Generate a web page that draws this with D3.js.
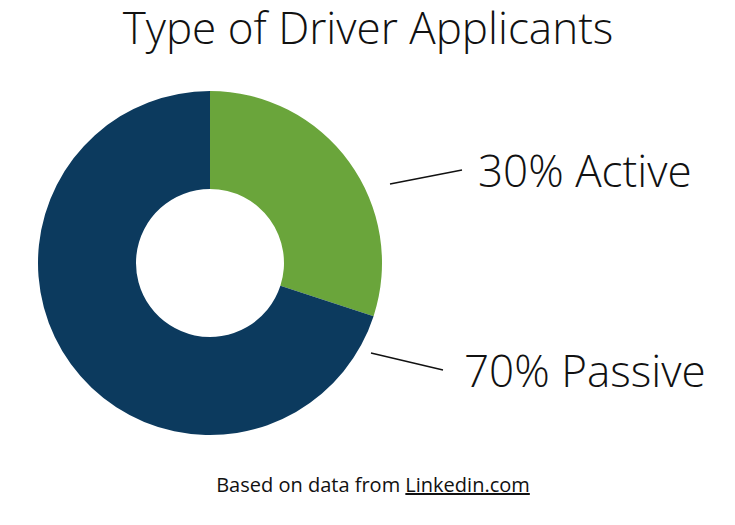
<!DOCTYPE html>
<html>
<head>
<meta charset="utf-8">
<script src="https://cdn.jsdelivr.net/npm/d3@7"></script>
<style>
  html, body { margin: 0; padding: 0; background: #fff; }
  svg { display: block; }
</style>
</head>
<body>
<svg id="chart" width="735" height="525"></svg>
<script>
const categories = ["Active", "Passive"];
const values = [30, 70];
const labels = ["30% Active", "70% Passive"];
const colors = ["#6aa53b", "#0c3a5e"];

const svg = d3.select("#chart");
const cx = 210, cy = 263, rOuter = 172, rInner = 74;

svg.append("text")
  .attr("x", 368).attr("y", 44)
  .attr("text-anchor", "middle")
  .style("font-family", "'Open Sans'")
  .style("font-weight", 300)
  .style("font-size", "44px")
  .attr("fill", "#111")
  .text("Type of Driver Applicants");

const pie = d3.pie().sort(null).value(d => d)(values);
const arc = d3.arc().innerRadius(rInner).outerRadius(rOuter);
const g = svg.append("g").attr("transform", `translate(${cx},${cy})`);
g.selectAll("path").data(pie).enter().append("path")
  .attr("d", arc)
  .attr("fill", (d, i) => colors[i]);

// leader lines and labels
const lab = [
  { line: [[390, 184], [462, 170]], x: 478, y: 187 },
  { line: [[371, 353], [443, 370]], x: 464, y: 387 }
];
lab.forEach((l, i) => {
  svg.append("line")
    .attr("x1", l.line[0][0]).attr("y1", l.line[0][1])
    .attr("x2", l.line[1][0]).attr("y2", l.line[1][1])
    .attr("stroke", "#111").attr("stroke-width", 1.3);
  svg.append("text")
    .attr("x", l.x).attr("y", l.y)
    .style("font-family", "'Open Sans'")
    .style("font-weight", 300)
    .style("font-size", "44px")
    .attr("fill", "#111")
    .text(labels[i]);
});

const foot = svg.append("text")
  .attr("x", 373).attr("y", 492)
  .attr("text-anchor", "middle")
  .style("font-family", "'Open Sans'")
  .style("font-size", "20px")
  .attr("fill", "#111");
foot.append("tspan").text("Based on data from ");
foot.append("tspan").style("text-decoration", "underline").text("Linkedin.com");
</script>
</body>
</html>
